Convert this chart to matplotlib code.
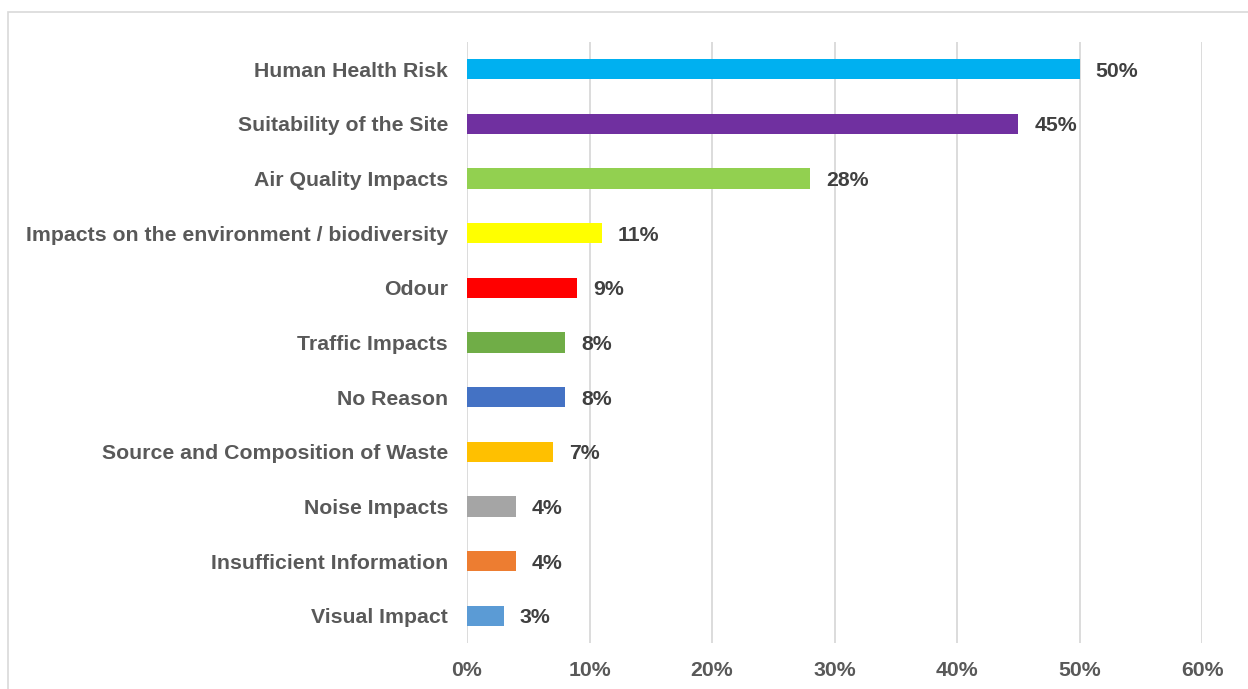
import matplotlib.pyplot as plt
from matplotlib.patches import Rectangle

categories = [
    "Human Health Risk",
    "Suitability of the Site",
    "Air Quality Impacts",
    "Impacts on the environment / biodiversity",
    "Odour",
    "Traffic Impacts",
    "No Reason",
    "Source and Composition of Waste",
    "Noise Impacts",
    "Insufficient Information",
    "Visual Impact",
]
values = [50, 45, 28, 11, 9, 8, 8, 7, 4, 4, 3]
colors = ["#00B0F0", "#7030A0", "#92D050", "#FFFF00", "#FF0000", "#70AD47",
          "#4472C4", "#FFC000", "#A5A5A5", "#ED7D31", "#5B9BD5"]
xticks = [0, 10, 20, 30, 40, 50, 60]

plt.rcParams["font.family"] = ["Liberation Sans", "DejaVu Sans"]

fig = plt.figure(figsize=(12.48, 6.89), dpi=100)
fig.patches.append(Rectangle((8 / 1248, -0.1), 1.2, 1 - 12 / 689 + 0.1,
                             transform=fig.transFigure, fill=False,
                             edgecolor="#D9D9D9", linewidth=1.2))
ax = fig.add_axes([467 / 1248, 1 - 643 / 689, (1202 - 467) / 1248, (643 - 42) / 689])

y = list(range(len(categories)))
ax.barh(y, values, height=0.37, color=colors, zorder=3)
for yi, v in zip(y, values):
    ax.text(v + 1.3, yi, f"{v}%", va="center_baseline", ha="left", fontsize=15.3,
            fontweight="bold", color="#404040")

ax.set_ylim(len(categories) - 0.5, -0.5)
ax.set_xlim(0, 60)
ax.set_yticks(y)
ax.set_yticklabels(categories, fontsize=15.3, fontweight="bold", color="#595959")
ax.set_xticks(xticks)
ax.set_xticklabels([f"{t}%" for t in xticks], fontsize=15.3, fontweight="bold", color="#595959")
ax.tick_params(axis="both", length=0)
ax.tick_params(axis="y", pad=13.7)
ax.tick_params(axis="x", pad=13)
ax.grid(axis="x", color="#D9D9D9", linewidth=1.3, zorder=0)
for s in ax.spines.values():
    s.set_visible(False)

fig.savefig("out.png", dpi=100)
